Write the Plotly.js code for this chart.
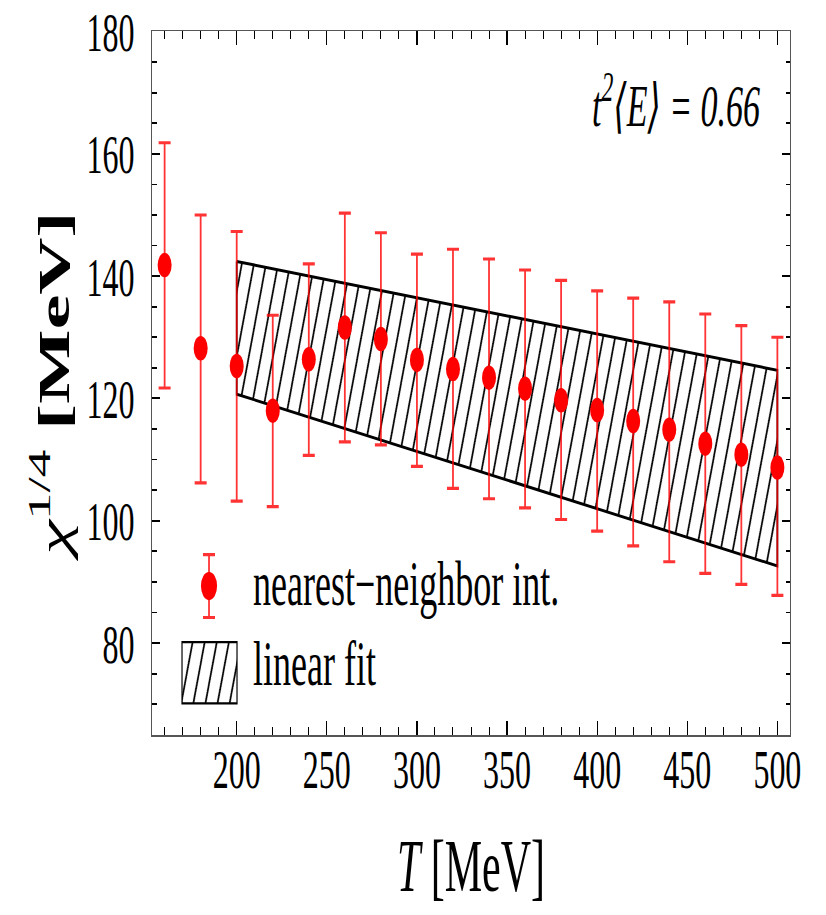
<!DOCTYPE html>
<html><head><meta charset="utf-8">
<script src="https://cdn.plot.ly/plotly-3.0.1.min.js"></script>
<style>
html,body{margin:0;padding:0;background:#fff;overflow:hidden}
#wrap{width:826px;height:915px;overflow:hidden}
#plot{width:826px;height:523px;transform:scaleY(1.7495);transform-origin:0 0}
</style></head>
<body><div id="wrap"><div id="plot"></div></div>
<script>
// data
const T       = [160,180,200,220,240,260,280,300,320,340,360,380,400,420,440,460,480,500];
const chi     = [141.8,128.2,125.3,118.0,126.4,131.6,129.7,126.3,124.8,123.4,121.6,119.7,118.1,116.3,114.9,112.6,110.8,108.7];
const errHigh = [161.8,150.0,147.3,133.6,142.0,150.3,147.1,143.6,144.4,142.8,141.0,139.3,137.6,136.4,135.8,133.8,131.9,130.0];
const errLow  = [121.7,106.2,103.2,102.3,110.7,112.9,112.4,108.9,105.3,103.6,102.1,100.2,98.3,95.9,93.3,91.4,89.6,87.8];
const fitT     = [200, 500];
const fitUpper = [142.4, 124.6];
const fitLower = [120.7, 92.6];
const xTicks = [200,250,300,350,400,450,500];
const yTicks = [80,100,120,140,160,180];

const serif = '"Liberation Serif", "DejaVu Serif", "Times New Roman", serif';

const band = {
  x: [fitT[0], fitT[1], fitT[1], fitT[0], fitT[0]],
  y: [fitUpper[0], fitUpper[1], fitLower[1], fitLower[0], fitUpper[0]],
  type: 'scatter', mode: 'lines', fill: 'toself',
  fillcolor: 'white',
  fillpattern: {shape: '/', size: 11.5, solidity: 0.14, fgcolor: 'black', bgcolor: 'white'},
  line: {color: 'black', width: 1.7},
  name: 'linear fit', legend: 'legend2', hoverinfo: 'skip'
};
const pts = {
  x: T, y: chi, type: 'scatter', mode: 'markers',
  marker: {color: '#ff0000', size: 14},
  error_y: {type: 'data', symmetric: false,
    array: errHigh.map((v, i) => v - chi[i]),
    arrayminus: chi.map((v, i) => v - errLow[i]),
    color: 'rgba(255,0,0,0.8)', thickness: 1.8, width: 6},
  name: 'nearest\u2212neighbor int.', legend: 'legend'
};

const axisCommon = {
  ticks: 'inside', ticklen: 8, tickwidth: 1.2, tickcolor: 'black',
  showline: true, linecolor: '#555', linewidth: 1, mirror: 'allticks',
  showgrid: false, zeroline: false
};

const legendCommon = {xanchor: 'left', yanchor: 'middle', font: {size: 36, family: serif},
  itemwidth: 78, bgcolor: 'rgba(0,0,0,0)', borderwidth: 0};

const layout = {
  width: 826, height: 523,
  margin: {l: 152, r: 36, t: 18, b: 103},
  paper_bgcolor: 'white', plot_bgcolor: 'white',
  font: {family: serif, color: 'black'},
  showlegend: true,
  xaxis: Object.assign({}, axisCommon, {
    range: [153, 507], tickvals: xTicks, ticktext: xTicks.map(String),
    minor: {dtick: 10, tick0: 0, ticks: 'inside', ticklen: 4.5, tickcolor: 'black', tickwidth: 1},
    tickfont: {size: 32, family: serif}, ticklabelstandoff: -9,
    title: {text: '<i>T</i> [MeV]', font: {size: 42, family: serif}, standoff: 23}
  }),
  yaxis: Object.assign({}, axisCommon, {
    range: [65, 180], tickvals: yTicks, ticktext: yTicks.map(String),
    minor: {dtick: 5, tick0: 0, ticks: 'inside', ticklen: 4.5, tickcolor: 'black', tickwidth: 1},
    tickfont: {size: 32, family: serif}, ticklabelstandoff: 10,
    title: {text: '<i>\u03c7</i><sup>1/4</sup> <b>[MeV]</b>', font: {size: 45, family: serif}, standoff: 2}
  }),
  legend: Object.assign({}, legendCommon, {x: 0.0204, y: 0.2187}),
  legend2: Object.assign({}, legendCommon, {x: 0.0204, y: 0.1054}),
  annotations: [{
    xref: 'paper', yref: 'paper', x: 0.822, y: 0.9, xanchor: 'center', yanchor: 'middle',
    text: 't<sup>2</sup>\u27e8E\u27e9 = 0.66', showarrow: false,
    font: {size: 34, family: serif, style: 'italic'}
  }]
};

const SVGNS = 'http://www.w3.org/2000/svg';
Plotly.newPlot('plot', [band, pts], layout, {staticPlot: true, displayModeBar: false}).then(function (gd) {
  // steeper hatching, as in the reference
  gd.querySelectorAll('pattern').forEach(function (p) {
    p.setAttribute('patternTransform', 'rotate(-27)');
  });
  // legend glyph for the fit: hatched box
  const fillPath = gd.querySelector('.legend2 .legendfill path');
  if (fillPath) {
    fillPath.setAttribute('d', 'M17,-10.5h55v35h-55z');
    fillPath.style.stroke = 'black';
    fillPath.style.strokeWidth = '1.2px';
  }
  gd.querySelectorAll('.legend2 .legendlines path').forEach(function (p) { p.style.display = 'none'; });
  // legend glyph for the points: marker with an error bar
  const mk = gd.querySelector('.legend .legendpoints path.scatterpts');
  if (mk) {
    const tf = (mk.getAttribute('transform') || '') + ' translate(0,3)';
    const eb = document.createElementNS(SVGNS, 'path');
    eb.setAttribute('d', 'M0,-18V18M-6,-18h12M-6,18h12');
    eb.setAttribute('transform', tf);
    eb.style.stroke = 'rgba(255,0,0,0.8)';
    eb.style.strokeWidth = '1.8px';
    eb.style.fill = 'none';
    mk.parentNode.insertBefore(eb, mk);
    mk.setAttribute('transform', tf + ' scale(1.15)');
  }
});
</script>
</body></html>
